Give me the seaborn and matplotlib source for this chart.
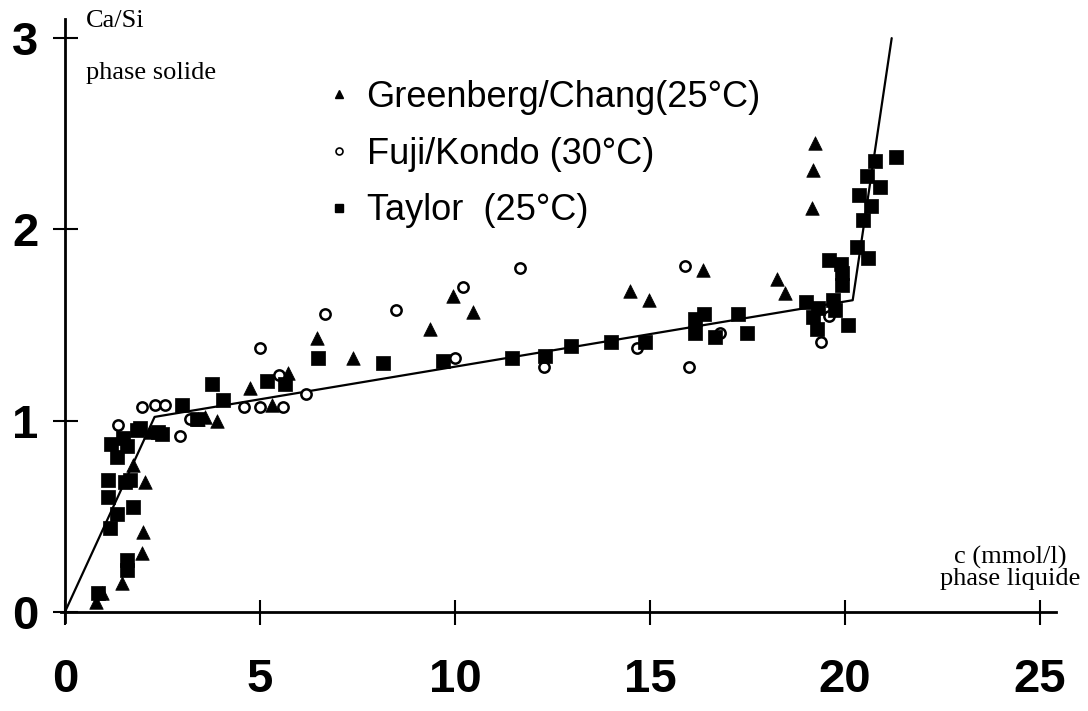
import matplotlib
matplotlib.use("Agg")
import matplotlib.pyplot as plt
from matplotlib.lines import Line2D
import seaborn as sns
import pandas as pd

# ---- data ----
greenberg_x = [0.8, 0.95, 1.46, 1.97, 2.0, 2.05, 1.74, 2.18, 3.4, 3.6, 3.9, 4.74, 5.3, 5.72,
               6.46, 7.38, 9.36, 9.95, 10.46, 14.5, 14.97, 16.36, 18.26, 18.46, 19.15, 19.18, 19.23]
greenberg_y = [0.05, 0.10, 0.15, 0.31, 0.42, 0.68, 0.77, 0.94, 1.01, 1.02, 1.00, 1.17, 1.08, 1.25,
               1.43, 1.33, 1.48, 1.65, 1.57, 1.68, 1.63, 1.79, 1.74, 1.67, 2.11, 2.31, 2.45]

fuji_x = [1.36, 1.97, 2.3, 2.56, 2.95, 3.2, 4.6, 5.0, 5.0, 5.6, 5.5, 6.18, 6.67, 8.5, 10.0,
          10.2, 11.67, 12.28, 14.67, 15.9, 16.0, 16.8, 19.4, 19.6]
fuji_y = [0.98, 1.07, 1.08, 1.08, 0.92, 1.01, 1.07, 1.07, 1.38, 1.07, 1.24, 1.14, 1.56, 1.58, 1.33,
          1.70, 1.80, 1.28, 1.38, 1.81, 1.28, 1.46, 1.41, 1.55]

taylor_x = [0.85, 1.59, 1.59, 1.74, 1.33, 1.15, 1.1, 1.1, 1.54, 1.67, 1.33, 1.18, 1.59, 1.49,
            1.85, 1.92, 2.38, 2.5, 3.0, 3.38, 3.77, 4.05, 5.18, 5.64, 6.5, 8.15, 9.7, 11.46,
            12.3, 12.97, 14.0, 14.87, 16.15, 16.4, 16.15, 16.67, 17.26, 17.5, 19.0, 19.3, 19.18,
            19.28, 19.7, 19.74, 20.08, 19.6, 19.9, 19.92, 19.92, 20.3, 20.6, 20.46, 20.67,
            20.36, 20.9, 20.56, 20.77, 21.3]
taylor_y = [0.10, 0.27, 0.22, 0.55, 0.51, 0.44, 0.60, 0.69, 0.68, 0.69, 0.81, 0.88, 0.87, 0.91,
            0.95, 0.96, 0.94, 0.93, 1.08, 1.01, 1.19, 1.11, 1.21, 1.19, 1.33, 1.30, 1.31, 1.33,
            1.34, 1.39, 1.41, 1.41, 1.53, 1.56, 1.46, 1.44, 1.56, 1.46, 1.62, 1.59, 1.54,
            1.48, 1.63, 1.58, 1.50, 1.84, 1.82, 1.77, 1.71, 1.91, 1.85, 2.05, 2.12,
            2.18, 2.22, 2.28, 2.36, 2.38]

model_x = [0.0, 2.3, 20.2, 21.2]
model_y = [0.0, 1.02, 1.63, 3.0]

x_ticks = [0, 5, 10, 15, 20, 25]
y_ticks = [0, 1, 2, 3]

labels = ["Greenberg/Chang(25°C)", "Fuji/Kondo (30°C)", "Taylor  (25°C)"]

# ---- figure ----
sns.set_theme(style="white")
plt.rcParams['font.family'] = ['Liberation Sans', 'DejaVu Sans']
plt.rcParams['text.color'] = 'black'
plt.rcParams['xtick.color'] = 'black'
plt.rcParams['ytick.color'] = 'black'
plt.rcParams['axes.labelcolor'] = 'black'

W, H = 1088, 711
fig = plt.figure(figsize=(W / 100, H / 100), dpi=100)
fig.patch.set_facecolor("white")

# axes placed in pixel terms
left_px, right_px = 61, 61 + 994.5
bottom_px_from_top, top_px_from_top = 621.6, 19
ax = fig.add_axes([left_px / W, 1 - bottom_px_from_top / H,
                   (right_px - left_px) / W, (bottom_px_from_top - top_px_from_top) / H])
ax.set_facecolor("white")

line_df = pd.DataFrame({"x": model_x, "y": model_y})
sns.lineplot(data=line_df, x="x", y="y", sort=False, estimator=None, color="black",
             linewidth=1.6, ax=ax, zorder=2)

sns.scatterplot(x=greenberg_x, y=greenberg_y, marker="^", s=95, color="black",
                edgecolor="black", linewidth=0.5, ax=ax, zorder=3)
sns.scatterplot(x=fuji_x, y=fuji_y, marker="o", s=55, facecolor="white",
                edgecolor="black", linewidth=1.8, ax=ax, zorder=3)
sns.scatterplot(x=taylor_x, y=taylor_y, marker="s", s=90, color="black",
                edgecolor="black", linewidth=0.5, ax=ax, zorder=3)

ax.set_xlim(-0.1, 25.4)
ax.set_ylim(-0.05, 3.1)
ax.set_xlabel("")
ax.set_ylabel("")

for side in ["top", "right"]:
    ax.spines[side].set_visible(False)
ax.spines["left"].set_position(("data", 0))
ax.spines["bottom"].set_position(("data", 0))
for side in ["left", "bottom"]:
    ax.spines[side].set_color("black")
    ax.spines[side].set_linewidth(2.0)

ax.set_xticks(x_ticks)
ax.set_yticks(y_ticks)
ax.set_xticklabels([str(t) for t in x_ticks])
ax.set_yticklabels([str(t) for t in y_ticks])
for lab in ax.get_xticklabels() + ax.get_yticklabels():
    lab.set_fontfamily(['Liberation Sans Narrow', 'Liberation Sans'])
    lab.set_fontweight('bold')
    lab.set_fontsize(34)
    lab.set_color('black')
ax.tick_params(axis="x", bottom=True, direction="inout", length=18, width=1.5, pad=24,
               colors="black")
ax.tick_params(axis="y", left=True, direction="inout", length=18, width=1.5, pad=10,
               colors="black")
ax.grid(False)

# axis titles (serif)
serif = ['Liberation Serif', 'DejaVu Serif']
fig.text(86 / W, 1 - 21 / H, "Ca/Si", family=serif, fontsize=19, ha="left", va="center")
fig.text(86 / W, 1 - 73 / H, "phase solide", family=serif, fontsize=19, ha="left", va="center")
fig.text(1010 / W, 1 - 568 / H, "c (mmol/l)\nphase liquide", family=serif, fontsize=19,
         ha="center", va="center", linespacing=0.92)

# legend
handles = [
    Line2D([], [], linestyle="none", marker="^", markersize=6, color="black"),
    Line2D([], [], linestyle="none", marker="o", markersize=5, markerfacecolor="white",
           markeredgecolor="black", markeredgewidth=1.2),
    Line2D([], [], linestyle="none", marker="s", markersize=6, color="black"),
]
leg = fig.legend(handles, labels, loc="upper left", bbox_to_anchor=(325 / W, 1 - 80 / H),
                 frameon=False, fontsize=26, handlelength=0.8, handletextpad=0.35,
                 labelspacing=0.6, borderpad=0, borderaxespad=0)
for t in leg.get_texts():
    t.set_color("black")

fig.savefig("out.png", dpi=100, facecolor="white")
